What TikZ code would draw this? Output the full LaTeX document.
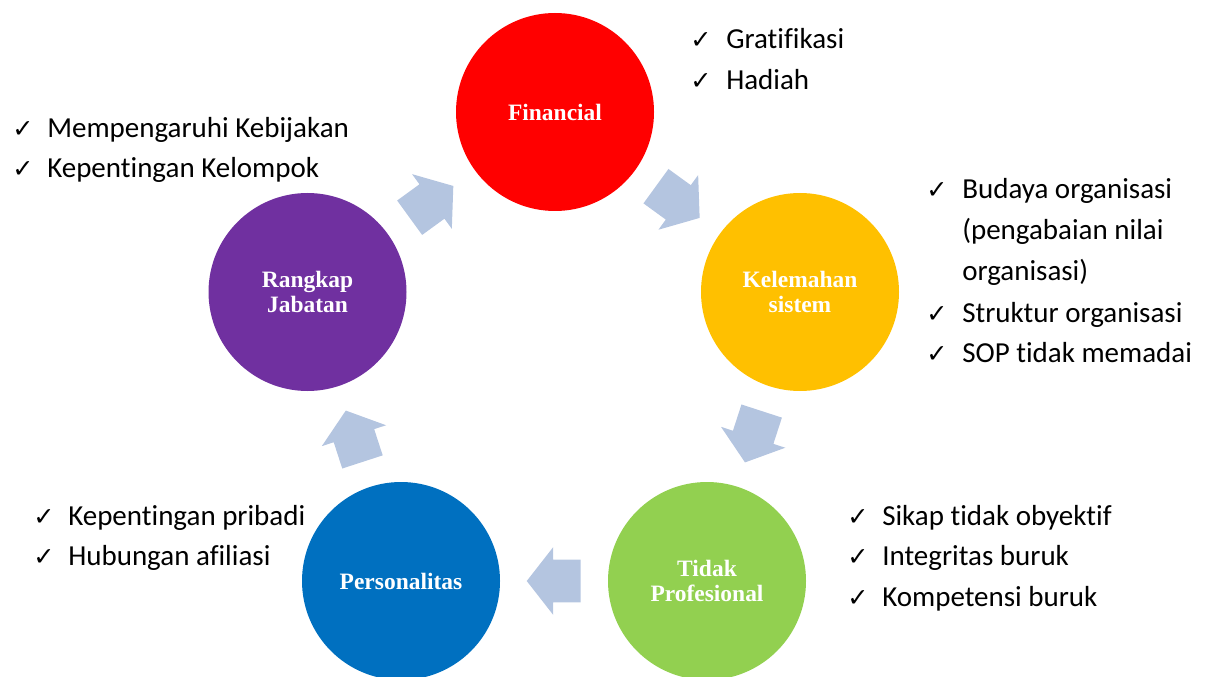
\documentclass[tikz,border=0pt]{standalone}
\usepackage{fontspec}
\setmainfont{Carlito}[Ligatures=NoCommon]
\newfontfamily\circfont{Liberation Serif}
\newfontfamily\chkfont{DejaVu Sans}
\usetikzlibrary{shapes.arrows,calc}
\definecolor{cred}{HTML}{FF0000}
\definecolor{cyellow}{HTML}{FFC000}
\definecolor{cgreen}{HTML}{92D050}
\definecolor{cblue}{HTML}{0070C0}
\definecolor{cpurple}{HTML}{7030A0}
\definecolor{arrowblue}{HTML}{B4C5E0}
\begin{document}
\begin{tikzpicture}[x=0.75pt,y=-0.75pt,
  circ/.style={circle, minimum size=148.5pt, inner sep=0pt, text=white, align=center,
    font=\circfont\bfseries\fontsize{17.6}{18.75}\selectfont},
  blockarrow/.style={single arrow, fill=arrowblue, draw=none, anchor=tail,
    inner xsep=0pt, inner ysep=15.75pt,
    minimum height=40.5pt,
    single arrow head extend=9.4pt, single arrow tip angle=104},
  item/.style={anchor=base west, inner sep=0pt, font=\fontsize{21.75}{26}\selectfont},
  tick/.style={anchor=base west, inner sep=0pt, font=\chkfont\fontsize{19}{21}\selectfont}
]
\useasboundingbox (0,0) rectangle (1206,677);
\clip (0,0) rectangle (1206,677);

% circles
\node[circ, fill=cred]    (fin) at (555,112) {Financial};
\node[circ, fill=cyellow] (kel) at (800,292) {Kelemahan\\sistem};
\node[circ, fill=cgreen]  (tid) at (707,581) {Tidak\\Profesional};
\node[circ, fill=cblue]   (per) at (401,581) {Personalitas};
\node[circ, fill=cpurple] (ran) at (307.5,292) {Rangkap\\Jabatan};

% block arrows (tail placed half an arrow length before the midpoint)
\node[blockarrow, rotate=36]   (a1) at ($(ran)!0.5!(fin)!20.25pt!(ran)$) {};
\node[blockarrow, rotate=-36]  (a2) at ($(fin)!0.5!(kel)!20.25pt!(fin)$) {};
\node[blockarrow, rotate=-108] (a3) at ($(kel)!0.5!(tid)!20.25pt!(kel)$) {};
\node[blockarrow, rotate=180]  (a4) at ($(tid)!0.5!(per)!20.25pt!(tid)$) {};
\node[blockarrow, rotate=108]  (a5) at ($(per)!0.5!(ran)!20.25pt!(per)$) {};

% Financial list
\node[tick] (t1) at (690,49) {✓};
\node[item] (i1) at (726,49) {Gratifikasi};
\node[tick] (t2) at (690,90) {✓};
\node[item] (i2) at (726,90) {Hadiah};

% Rangkap list
\node[tick] (t3) at (12,138) {✓};
\node[item] (i3) at (47,138) {Mempengaruhi Kebijakan};
\node[tick] (t4) at (12,178) {✓};
\node[item] (i4) at (47,178) {Kepentingan Kelompok};

% Kelemahan list
\node[tick] (t5) at (926,199) {✓};
\node[item] (i5) at (962,199) {Budaya organisasi};
\node[item] (i5b) at (962,240) {(pengabaian nilai};
\node[item] (i5c) at (962,281) {organisasi)};
\node[tick] (t6) at (926,322) {✓};
\node[item] (i6) at (962,322) {Struktur organisasi};
\node[tick] (t7) at (926,362) {✓};
\node[item] (i7) at (962,362) {SOP tidak memadai};

% Tidak Profesional list
\node[tick] (t8) at (847,525) {✓};
\node[item] (i8) at (882,525) {Sikap tidak obyektif};
\node[tick] (t9) at (847,565) {✓};
\node[item] (i9) at (882,565) {Integritas buruk};
\node[tick] (t10) at (847,606) {✓};
\node[item] (i10) at (882,606) {Kompetensi buruk};

% Personalitas list
\node[tick] (t11) at (33,525) {✓};
\node[item] (i11) at (68,525) {Kepentingan pribadi};
\node[tick] (t12) at (33,565) {✓};
\node[item] (i12) at (68,565) {Hubungan afiliasi};
\end{tikzpicture}
\end{document}
